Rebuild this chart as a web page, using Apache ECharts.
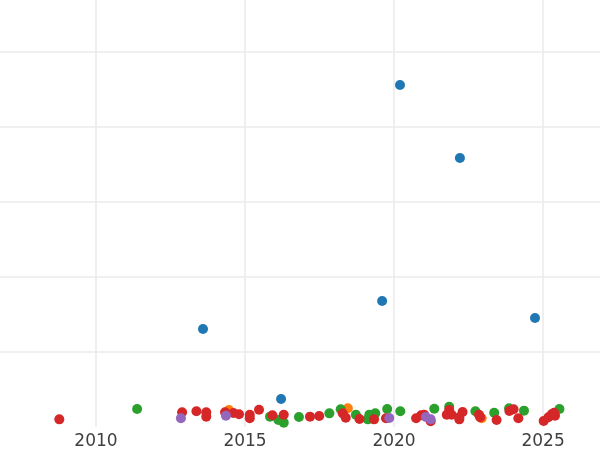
<!DOCTYPE html>
<html>
<head>
<meta charset="utf-8">
<script src="https://cdn.jsdelivr.net/npm/echarts@6/dist/echarts.min.js"></script>
<style>html,body{margin:0;padding:0;background:#fff}#c{width:600px;height:450px}</style>
</head>
<body>
<div id="c"></div>
<script>
var xTicks = [2010, 2015, 2020, 2025];

var blueX = [2020.20, 2022.21, 2019.60, 2013.59, 2024.73, 2016.21];
var blueY = [456, 358.7, 168, 130.7, 145.3, 37.3];

var orangeX = [2014.46, 2018.45, 2022.94];
var orangeY = [22.7, 24.9, 11.6];

var greenX = [2011.38, 2015.84, 2016.12, 2016.30, 2016.81, 2017.83, 2018.21, 2018.72, 2019.12, 2019.17, 2019.37, 2019.77, 2020.21, 2021.35, 2021.85, 2022.73, 2023.36, 2023.86, 2024.36, 2025.55];
var greenY = [24, 13.8, 9.3, 5.8, 13.3, 18.2, 23.6, 16.4, 10.2, 16.4, 18.2, 24, 20.9, 24.4, 27.1, 20.9, 19.1, 24.9, 21.8, 24];

var redX = [2008.77, 2012.89, 2013.37, 2013.70, 2013.70, 2014.33, 2014.61, 2014.80, 2015.16, 2015.16, 2015.47, 2015.92, 2016.30, 2017.18, 2017.49, 2018.28, 2018.38, 2018.84, 2019.33, 2019.73, 2020.74, 2020.91, 2021.01, 2021.23, 2021.85, 2021.77, 2021.93, 2022.19, 2022.30, 2022.19, 2022.85, 2022.89, 2023.44, 2023.87, 2024.01, 2024.17, 2025.02, 2025.18, 2025.29, 2025.40, 2025.37];
var redY = [10.2, 19.6, 20.9, 19.6, 13.8, 19.6, 18.7, 16.9, 16.4, 11.6, 23.1, 15.6, 16.4, 13.8, 14.7, 18.2, 12.4, 10.7, 10.2, 11.6, 11.6, 15.6, 16.4, 7.6, 22.7, 16.4, 16.4, 12.9, 20, 10.2, 16.4, 12.9, 9.3, 21.3, 23.6, 11.6, 8, 12.9, 16.9, 15.1, 19.1];

var purpleX = [2012.85, 2014.36, 2019.84, 2021.07, 2021.23];
var purpleY = [11.6, 15.1, 12, 13.3, 10.2];

var yTicks = [100, 200, 300, 400, 500];

function pts(xs, ys) { return xs.map(function (x, i) { return [x, ys[i]]; }); }

function ser(xs, ys, color) {
  return {
    type: 'scatter',
    data: pts(xs, ys),
    symbolSize: 10,
    itemStyle: { color: color, opacity: 1 },
    emphasis: { disabled: true },
    silent: true
  };
}

var chart = echarts.init(document.getElementById('c'), null, { renderer: 'canvas' });
chart.setOption({
  animation: false,
  backgroundColor: '#ffffff',
  grid: { left: 0, right: 0, top: 0, bottom: 23, containLabel: false },
  xAxis: {
    type: 'value',
    min: 2006.78,
    max: 2026.91,
    axisLine: { show: false },
    axisTick: { show: false, customValues: xTicks },
    axisLabel: {
      customValues: xTicks,
      formatter: function (v) { return String(v); },
      color: '#404040',
      fontSize: 17,
      fontFamily: 'DejaVu Sans',
      margin: 6
    },
    splitLine: { show: true, lineStyle: { color: '#ebebeb', width: 1.6 } }
  },
  yAxis: {
    type: 'value',
    min: 0,
    max: 569.3,
    axisLine: { show: false },
    axisTick: { show: false, customValues: yTicks },
    axisLabel: { show: false, customValues: yTicks },
    splitLine: { show: true, lineStyle: { color: '#ebebeb', width: 1.6 } }
  },
  series: [
    ser(blueX, blueY, '#1f77b4'),
    ser(orangeX, orangeY, '#ff7f0e'),
    ser(greenX, greenY, '#2ca02c'),
    ser(redX, redY, '#d62728'),
    ser(purpleX, purpleY, '#9467bd')
  ]
});
</script>
</body>
</html>
